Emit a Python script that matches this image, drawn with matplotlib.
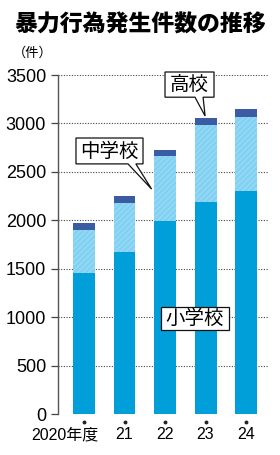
import matplotlib.pyplot as plt
from matplotlib.patches import Polygon
import numpy as np

plt.rcParams['font.family'] = ['Liberation Sans', 'Noto Sans CJK JP']
plt.rcParams['hatch.linewidth'] = 0.8

# data
years = ['2020年度', '21', '22', '23', '24']
elementary = [1460, 1670, 1995, 2190, 2305]
junior_high = [440, 510, 665, 790, 765]
high_school = [70, 75, 70, 80, 80]
yticks = [0, 500, 1000, 1500, 2000, 2500, 3000, 3500]

c_elem = '#009fd9'
c_mid = '#82d1f2'
c_high = '#3b5ba2'

fig = plt.figure(figsize=(2.8, 4.55), dpi=100)
ax = fig.add_axes([58/280, 40.7/455, 210/280, 339.3/455])

x = np.arange(len(years))
w = 0.543
elem = np.array(elementary)
mid = np.array(junior_high)
high = np.array(high_school)

ax.bar(x, elem, w, color=c_elem, zorder=2)
ax.bar(x, mid, w, bottom=elem, color=c_mid, edgecolor='#9cdcf6',
       hatch='//////', linewidth=0, zorder=2)
ax.bar(x, high, w, bottom=elem + mid, color=c_high, zorder=2)

ax.set_xlim(-0.642, 4.543)
ax.set_ylim(0, 3500)

# grid
for v in yticks[1:]:
    ax.axhline(v, color='#444444', lw=0.8, ls=(0, (1, 1.4)), zorder=1)

ax.set_yticks(yticks)
ax.tick_params(axis='y', length=5, width=0.9, pad=3.5, labelsize=13,
               color='#444444')
ax.set_xticks([])
for s in ['top', 'right', 'bottom']:
    ax.spines[s].set_visible(False)
ax.spines['left'].set_color('#555555')
ax.spines['left'].set_linewidth(1.0)

# small dots under each bar + year labels
ax.plot(x, [-76] * len(x), 'o', ms=1.8, color='#222222', clip_on=False)
for i, lab in enumerate(years):
    if i == 0:
        ax.text(i + 0.36, -213, lab, ha='right', va='center', fontsize=11.5,
                clip_on=False)
    else:
        ax.text(i, -213, lab, ha='center', va='center', fontsize=11.5,
                clip_on=False)


def bubble(left, right, bottom, top, base=None, tip=None):
    pts = [(left, top), (right, top), (right, bottom)]
    if base is not None:
        pts += [(base[1], bottom), tip, (base[0], bottom)]
    pts += [(left, bottom)]
    ax.add_patch(Polygon(pts, closed=True, facecolor='white',
                         edgecolor='#111111', lw=0.9, zorder=5,
                         clip_on=False))


bubble(2.0, 3.21, 3271, 3531, base=(2.74, 2.94), tip=(2.99, 3077))
ax.text(2.605, 3401, '高校', ha='center', va='center', fontsize=14,
        family='Noto Sans CJK JP', zorder=6)

bubble(-0.198, 1.457, 2583, 2850, base=(1.086, 1.28), tip=(1.67, 2323))
ax.text(0.63, 2716, '中学校', ha='center', va='center', fontsize=14,
        family='Noto Sans CJK JP', zorder=6)

bubble(1.894, 3.58, 866, 1106)
ax.text(2.737, 986, '小学校', ha='center', va='center', fontsize=14,
        family='Noto Sans CJK JP', zorder=6)

fig.text(0.5, 1 - 25/455, '暴力行為発生件数の推移', ha='center', va='center',
         fontsize=16.5, fontweight='heavy', family='Noto Sans CJK JP')
fig.text(33/280, 1 - 53/455, '（件）', ha='center', va='center',
         fontsize=9.5, family='Noto Sans CJK JP')

fig.savefig('out.png', dpi=100)
